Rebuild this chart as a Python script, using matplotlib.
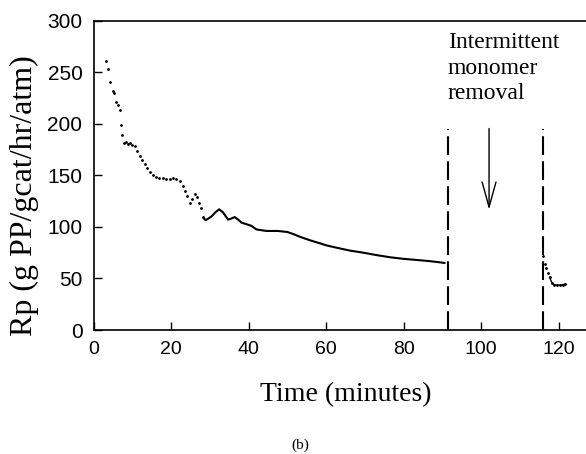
import matplotlib
matplotlib.use('Agg')
import matplotlib.pyplot as plt

# polymerisation rate
t_early = [3.1, 3.7, 4.2, 5.0, 5.3, 5.8, 6.2, 6.7, 7.2, 7.4, 7.8, 8.3, 8.8, 9.3, 10.0, 10.6, 11.2,
           11.9, 12.5, 13.2, 13.8, 14.5, 15.3, 16.2, 17.0, 17.8, 18.8, 19.6, 20.5, 21.3, 22.2, 23.0,
           23.5, 24.0, 24.8, 25.4, 26.1, 26.6, 27.2, 27.7, 28.2]
rp_early = [261, 253, 240, 232, 230, 221, 218, 213, 199, 189, 181, 182, 180, 181, 179, 178, 174,
            169, 165, 161, 157, 153, 150, 148, 147, 147, 146, 146, 147, 146, 144, 140,
            135, 130, 123, 127, 132, 129, 123, 118, 110]

t_main = [28.5, 28.9, 29.6, 30.4, 31.4, 32.4, 33.4, 34.7, 35.5, 36.4, 37.3, 38.2, 39.5, 40.7, 42.0,
          44.6, 47.6, 50.0, 51.5, 53.5, 55.8, 58.0, 60.1, 63.0, 66.1, 69.5, 73.0, 76.5, 79.9, 83.0,
          86.0, 88.5, 90.5]
rp_main = [108, 106.5, 108, 110, 114, 117, 114, 107, 108, 109.5, 107, 104, 102.5, 101, 97.5,
           96, 96, 95, 93, 90, 87, 84.5, 82, 79.5, 77, 75, 72.6, 70.5, 69, 68,
           67, 66, 65]

t_after = [116.0, 116.3, 116.8, 117.2, 117.6, 118.2, 118.8, 119.5, 120.3, 121.0, 121.7]
rp_after = [72, 64, 60, 55, 51, 46, 44, 43.5, 43.5, 44, 44.5]

removal_start = 91.4
removal_end = 116.0
dash_top = 195

serif = 'Liberation Serif'
sans = 'Liberation Sans'

fig = plt.figure(figsize=(5.86, 4.54), dpi=100)
ax = fig.add_axes([0.1596, 0.2731, 0.8404, 0.6817])

ax.plot(t_early, rp_early, ls='none', marker='.', ms=2.0, color='black')
ax.plot(t_main, rp_main, color='black', lw=1.5)
ax.plot(t_after, rp_after, ls='none', marker='.', ms=2.0, color='black')
ax.plot(t_after[4:], rp_after[4:], color='black', lw=1.0)

# monomer removal window
for xv in [removal_start, removal_end]:
    ax.plot([xv, xv], [0, dash_top], color='black', lw=1.5, dashes=(9, 3))

ax.annotate('', xy=(102, 114), xytext=(102, 198),
            arrowprops=dict(arrowstyle='->,head_length=0.9,head_width=0.25',
                            mutation_scale=20, lw=1.0, color='black'))
ax.text(removal_start, 289, 'Intermittent\nmonomer\nremoval', ha='left', va='top',
        fontsize=17, family=serif, linespacing=1.3)

ax.set_xlim(0, 127)
ax.set_ylim(0, 300)
ax.set_xticks([0, 20, 40, 60, 80, 100, 120])
ax.set_yticks([0, 50, 100, 150, 200, 250, 300])
ax.tick_params(direction='in', length=6, width=1.0, labelsize=14, pad=8)
ax.tick_params(axis='y', labelsize=15)
for lab in ax.get_xticklabels() + ax.get_yticklabels():
    lab.set_family(sans)
ax.spines['right'].set_visible(False)
for s in ['left', 'bottom', 'top']:
    ax.spines[s].set_linewidth(1.2)

fig.text(0.59, 0.13, 'Time (minutes)', ha='center', va='center', fontsize=20, family=serif)
fig.text(0.042, 0.57, 'Rp (g PP/gcat/hr/atm)', ha='center', va='center', rotation=90,
         fontsize=23, family=serif)
fig.text(0.512, 0.02, '(b)', ha='center', va='center', fontsize=11, family=serif)

fig.savefig('out.png', dpi=100)
